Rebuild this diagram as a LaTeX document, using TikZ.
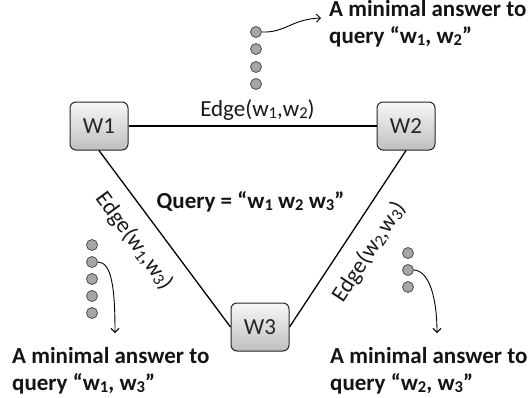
\documentclass[tikz,border=0pt]{standalone}
\usepackage{fontspec}
\setmainfont{Carlito}
\usepackage{graphicx}
\usetikzlibrary{arrows.meta}
\newcommand\subd[1]{\raisebox{-0.1em}{\scalebox{0.72}{#1}}}
\begin{document}
\begin{tikzpicture}[x=1pt,y=-1pt,
  wbox/.style={draw=black!85, line width=1pt, rounded corners=6pt, top color=black!3, bottom color=black!25, minimum width=58pt, minimum height=48pt, font=\fontsize{23}{27}\selectfont, text=black!85},
  edgeline/.style={line width=1.3pt, black},
  lbl/.style={font=\fontsize{23}{27}\selectfont, text=black!90, inner sep=0pt},
  boldtxt/.style={font=\fontsize{23}{27}\selectfont\bfseries, text=black!92, inner sep=0pt},
  ans/.style={boldtxt, anchor=base west},
  dot/.style={circle, draw=black!70, fill=black!35, line width=0.8pt, minimum size=11pt, inner sep=0pt},
  arr/.style={line width=0.9pt, black, -{Straight Barb[length=4pt,width=8pt]}}
]
\useasboundingbox[fill=white] (0,0) rectangle (532,397);

\node[wbox] (w1) at (99,126) {W1};
\node[wbox] (w2) at (406,126) {W2};
\node[wbox] (w3) at (260,327) {W3};

\draw[edgeline] (w1.east) -- node[lbl, pos=0.52, anchor=base, yshift=10pt] (e12) {Edge(w\subd{1},w\subd{2})} (w2.west);
\draw[edgeline] (w1.south) -- (w3.west);
\draw[edgeline] (w2.south) -- (w3.east);
\node[lbl, rotate=-53.5] (e13) at (134,241) {Edge(w\subd{1},w\subd{3})};
\node[lbl, rotate=56.6] (e23) at (369,252) {Edge(w\subd{2},w\subd{3})};

\node[boldtxt, anchor=base] (q) at (250.5,208) {Query = “w\subd{1} w\subd{2} w\subd{3}”};

\foreach \i/\yy in {1/32,2/49,3/67,4/84} \node[dot] (t\i) at (256,\yy) {};
\foreach \i/\yy in {1/245,2/262,3/279,4/296,5/313} \node[dot] (l\i) at (92,\yy) {};
\foreach \i/\yy in {1/253,2/270,3/287} \node[dot] (r\i) at (408,\yy) {};

\coordinate (ta) at (321,18);
\draw[arr] (t1.east) .. controls (285,33) and (292,19) .. (ta);
\coordinate (la) at (115,333);
\draw[arr] (l2.east) .. controls (112,262) and (115,290) .. (la);
\coordinate (ra) at (437,333);
\draw[arr] (r2.east) .. controls (430,271) and (437,300) .. (ra);

\node[ans] (a12a) at (329,16) {A minimal answer to};
\node[ans] (a12b) at (329,43) {query “w\subd{1}, w\subd{2}”};
\node[ans] (a13a) at (12,363) {A minimal answer to};
\node[ans] (a13b) at (12,390) {query “w\subd{1}, w\subd{3}”};
\node[ans] (a23a) at (330,363) {A minimal answer to};
\node[ans] (a23b) at (330,390) {query “w\subd{2}, w\subd{3}”};
\end{tikzpicture}
\end{document}
